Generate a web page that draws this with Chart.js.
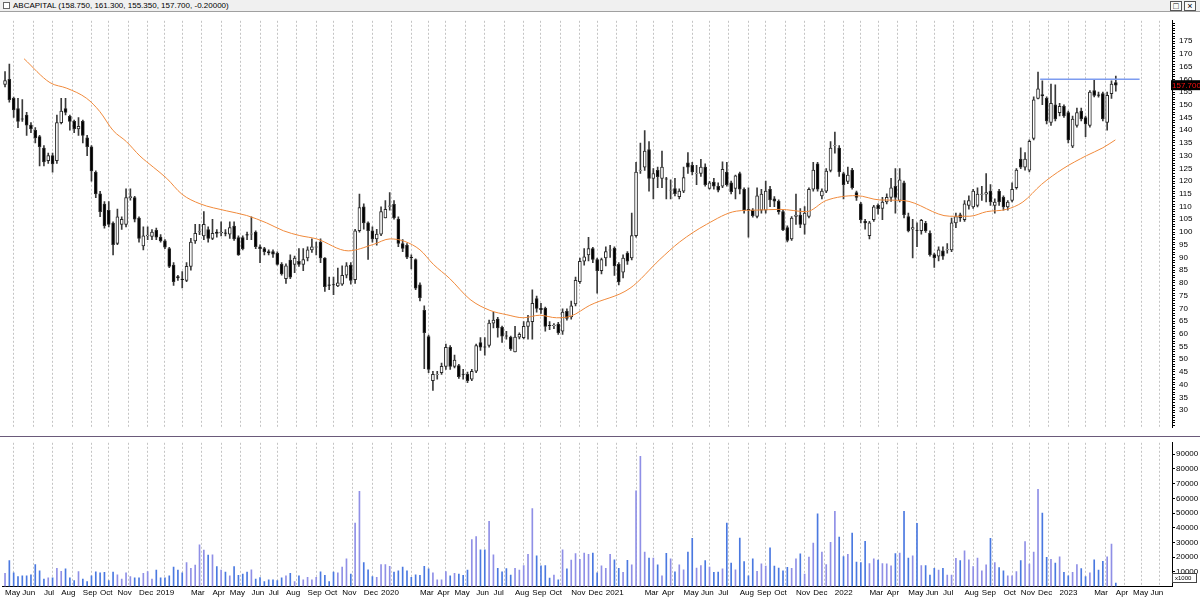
<!DOCTYPE html>
<html>
<head>
<meta charset="utf-8">
<script src="https://cdn.jsdelivr.net/npm/chart.js@4.4.1/dist/chart.umd.min.js"></script>
<style>
  body { margin: 0; background: #fff; font-family: "Liberation Sans", Arial, sans-serif; }
  #wrap { position: relative; width: 1200px; height: 597px; overflow: hidden; }
  #head { position: absolute; left: 0; top: 0; width: 1200px; height: 12px; background: #f0f0f0; border-bottom: 1px solid #a0a0a0; box-sizing: border-box; font-size: 8px; line-height: 11px; color: #000; }
  #head .ic { position: absolute; left: 3px; top: 2px; width: 7px; height: 7px; border: 1px solid #666; background: #fff; box-sizing: border-box; }
  #head .tt { position: absolute; left: 13px; top: 0; }
  #head .bt { position: absolute; top: 1px; width: 12px; height: 10px; border: 1px solid #555; box-sizing: border-box; font-size: 9px; line-height: 8px; text-align: center; background: #fafafa; }
  #price { position: absolute; left: 0; top: 12px; }
  #sep { position: absolute; left: 0; top: 436px; width: 1200px; height: 1px; background: #6a5a7a; }
  #vol { position: absolute; left: 0; top: 437px; }
</style>
</head>
<body>
<div id="wrap">
  <div id="head"><div class="ic"></div><div class="tt">ABCAPITAL (158.750, 161.300, 155.350, 157.700, -0.20000)</div>
    <div class="bt" style="left:1170px">□</div><div class="bt" style="left:1184px">×</div></div>
  <canvas id="price" width="1200" height="424"></canvas>
  <div id="sep"></div>
  <canvas id="vol" width="1200" height="160"></canvas>
</div>
<script>
// weekly candles, first week = week of 2018-05-04
const startDate = new Date(2018, 4, 4)

const opens = [158,160,152.5,148.5,144.5,146,142,140,137.5,133,128,130,128,143,148.5,145.5,143.5,140.5,143.5,137,
133.5,123.5,115,111,108.5,103.5,95.5,103,103,113.5,113.5,105.5,94.5,98.5,98.3,100.7,98,96.5,93.5,87,
82.5,81.5,81,86.5,96.5,100,98.5,101,97.5,100,99.6,99.7,99.2,102.3,97.8,97.8,99,99.2,100,94.2,
93.5,92.3,92.3,91.6,87.3,81.7,89,87.3,88.5,87.3,89.8,93,94,96,89.8,79.2,79.3,78.8,79.5,83,
87,81.3,100.5,109.9,103.6,100.5,97.3,99.2,105.5,110.1,110.9,105.1,95.5,94.8,90.1,89.2,79.2,69.2,58.9,41.6,
44,44.7,47.2,54.7,47.2,47.5,44.2,44.1,42.2,45.3,56.6,54.9,55.4,64.2,65.8,62.5,59.2,58.7,52.9,58.7,
58.5,62.9,64.8,73.8,70,70,63.3,63.2,63.8,61,68.8,66.6,71.7,80.5,88.5,91,93.5,89.2,84.8,89.8,
92.9,93.6,87.3,84.2,91.7,89.8,98.6,124.2,125.5,132.4,121.1,124.2,121.1,120.9,116.4,117.1,113.9,116.1,127.2,126.2,
123,123,125.5,117.1,119.6,118,118,123.6,119.3,117.1,123,116.8,108.9,108.6,106.1,108.6,108.6,116.8,113,112.1,
108,101.7,97.3,106.1,106.7,103,106.1,116.8,126.8,114.2,116.1,124.2,133.9,133,123,119.9,124.3,115.5,111.1,104.2,
98.6,104.9,110.5,109.3,111.8,113.6,118,112.4,119.3,106.1,101.1,100.6,100.5,103.4,99.5,91.1,90.5,92.6,93,93,
103.6,106.8,104.9,110.5,109.9,110.5,114.8,114.9,116.1,110.5,116.1,113.6,109.9,112.4,117.4,128.7,125.5,124.3,136.8,152.5,
154,152.5,143.1,150,146.9,149.4,146.9,133.7,141.9,147.5,145,141.9,155.6,153.9,154.4,143.1,154.4,158.75]

const highs = [163,166,153,152.5,152,147,143,141,138,134,131,131,146,152.5,152.5,146,144,145,144,138,
134,124,116,112,112,104,109,106,117,117,114,106,102,102,101,101.5,99,97,94,88,
83,84.5,88,97.5,103,103,108,102,105,101,104,101,104,104,98.5,98.5,100,106,100.5,95,
94,93,93,92.2,88,87.5,91,90.5,93.5,93.5,94.2,97.3,96,97.3,90,82.3,82.3,85.8,86.7,88,
88,101.1,114.9,111.1,104,102,101.1,109.9,112.4,115.5,112.4,106,97,95.5,91,89.5,80,71,59.5,45.3,
45.3,48.5,56,55.4,51.6,48,46,45,46,56,58.5,58.5,65.4,68.5,66.5,63,61,59.1,62.9,60.4,
64.8,67.3,77.3,74.8,72,70.5,64.8,64,64.5,69.8,69.8,72.9,82.3,89.8,93.5,97.9,94,89.8,89.8,94.2,
94.8,94.2,88,91,92.3,107.4,127.4,134.9,139.9,135.5,124.9,125.5,131.8,121.5,120.5,121.1,117,125.5,131.2,127.4,
126.2,128.6,126.8,119.9,121.1,119.3,127.6,127.4,120,122.4,123.6,117.4,117.4,109.2,117.4,116.8,120,118,113.9,112.6,
108.6,102.4,106.1,114.9,109.2,110,117.4,127.4,127.4,117,124.9,135.5,139.3,134,123.6,125.5,125,116.1,111.7,105,
104.2,110.5,111.1,113.6,115,121.1,124.9,124.9,120,107.4,105,103.6,105,104.2,100.5,91.7,94.2,94.2,95.5,105.5,
107.4,107.4,112.4,114.2,116.8,117.4,118,123,118.6,113,116.8,114.2,112.4,119.3,124.9,133.1,131.2,136.2,153.1,162.8,
159.4,153.1,158.1,157.8,150.6,150,147.5,145.6,148.7,148.7,145.6,155.6,159.8,155,155,155,159.4,161.3]

const lows = [157,151,145,141,143.5,138,139,135,126,126,127,123.5,127,142.5,146,140,139,138,135,130,
120,113.5,106,101.5,102,91,95,101,102,112.5,104,96,93,97,97,97,96,93.5,86,79,
81,78,80.5,85,95.5,99,97,96,97,98,98.5,98.5,97.5,96.7,90.8,93,97,97,93.5,88,
91,91,90,87,83,79.8,81.7,84,86.5,84.8,88.6,92,91,88,76.7,77.3,75.4,78.5,79,82,
79.5,79.8,99.9,101.1,89.2,96,94.8,98.6,105.5,108.6,105,94.2,92.3,89.5,85.5,77.3,72.9,46.3,44.7,37.8,
42.2,44,46,46,46.6,42.5,42.2,40.8,41.6,44.7,53.5,51.6,54.7,62.3,58.7,56.6,57.9,53.5,52.9,58,
58,57.9,57.9,68.5,68,61,61.6,62,59.8,59.8,65.4,65.8,71,79.8,87,88.6,88,76,83.5,86.7,
90,82.9,79.2,82,87.3,89,98,123,124.2,116.1,113,117.4,117.4,113,113,114.2,113,115.5,123,122.4,
118.6,121.8,118,116.8,116.8,115.8,117.4,118,115,113,115,107.4,98,105.8,105.5,107.4,107.4,110,110,107,
100.5,96.1,96.7,103,101.7,99.2,105.5,116.1,116.1,113,115.5,123.6,131,121.8,113,119,116.8,112.4,103.6,101.1,
97.3,104.2,107,104.9,111,112,107.4,111.8,105.5,100,89.8,94.2,99.2,99.8,90.5,86.1,88.6,89.2,91.7,92.3,
101.7,104.2,104.2,109,109.3,109.9,112.4,111.8,110.5,107.4,110.5,108.6,108.6,111.8,116.8,124.9,124.3,123.6,136.2,152.3,
150,142.5,141.9,143.7,145.6,145,135,133.1,141.2,143.7,137.5,141.2,153.1,153,143.7,140,152.5,155.35]

const closes = [159.5,152,148,143.5,144.3,142,140.5,137,133.5,127.5,130,126.8,143,147.5,147,143.5,140.5,141.5,138,133.5,
124,115,108,102.5,103,95,106,105,113.5,113.9,105,97.5,98.5,98.8,100,98,96.5,94,86.5,80.5,
82,81.3,86.5,96,99.5,100.2,103,97.5,99.5,99.4,100,99.4,101.7,97.3,91,93.5,98.8,99.3,94.2,93.5,
92.3,91.8,91.3,87.3,83.5,86.7,82.3,89.8,87.3,89.2,93,94.2,94.2,89.8,78.5,79,79.2,80,83,86.7,
81,100.5,109.6,103.6,100.5,97.3,99.2,108,108.9,110.3,105.5,95.5,93.6,90.1,89.9,77.9,74.2,60.4,46,44.1,
44.1,47.2,54.7,47.2,49.7,43.2,44,41.6,45.3,55.4,54.7,54.7,64.2,65.4,62.3,59.1,59.1,54.1,58.7,59.8,
62.9,64.8,72,70,69.5,62.9,63.2,63.4,60.4,68.5,66,71,81,88.5,90.2,93.5,89.2,84.8,89.2,92.3,
93,86.7,80.4,89.8,88.5,98.6,123.6,124.3,131.8,121.1,123,121.7,125.5,120.8,116.5,115.1,116.1,121.4,125.5,123.6,
123.1,125.5,118.6,119.3,118,116.4,124.6,118.6,115.9,122.1,116.8,108.6,108.6,106.4,114.2,114.9,116.1,112.6,112.1,108,
100.8,96.7,105.5,106.7,103,107.4,116.8,124.3,116.8,116.1,123.9,133,134,123.6,118.6,122.4,117.4,113.6,104.9,103.6,
103.6,109.9,109.2,111.8,113.6,117.4,113.6,120.5,106.8,100.5,101.7,100.5,104.6,100.5,91.1,89.8,93,90.5,93.1,103.6,
106.1,105.5,111.1,112.4,116.1,114.9,114.9,115.5,111.8,111.8,111.8,109.9,111.8,116.8,124.3,125.5,128.7,135.6,151.9,156.3,
153.5,143.7,150.6,144.4,149.4,145.6,136.2,144.4,146.9,144.4,142.5,155,153.7,153.7,144.4,153.7,158.1,157.7]

// weekly volume, thousands
const volumes = [8.9,17.6,9.3,6.7,7.2,7.2,8.0,15.0,10.7,5.0,5.9,5.9,12.4,10.4,12.0,5.9,4.1,10.2,5.0,3.3,
7.2,10,9.3,9.6,4.1,9.8,8.0,5.0,9.3,6.7,5.9,5.9,8.9,10.2,5.0,11.1,5.9,5.9,7.2,13.3,
11.1,9.3,16.3,12.4,14.6,28.4,24.8,21.3,21.5,13.5,11.1,9.8,7.2,13.5,7.6,8.5,9.8,11.3,5.0,6.1,
3.3,4.6,4.6,4.1,5.9,7.2,8.9,3.3,7.2,4.6,6.3,4.6,6.3,10,7.6,3.3,9.8,9.3,13.3,18.9,
8.5,43.2,64.7,16.3,11.3,6.7,6.3,15.0,15.0,13.7,9.8,10.7,13.3,10.7,6.3,8.0,7.6,13.7,12.0,9.3,
4.6,4.6,10.2,7.2,8.9,8.5,7.6,11.1,31.9,33.9,25.0,25.0,44.3,21.5,12.4,10,12.2,7.8,12.4,11.1,
14.3,21.9,53.0,20.9,14.1,14.3,5.7,7.8,4.6,25.0,12.0,18.0,22.4,18.5,22.8,21.9,22.8,9.3,14.1,
12.4,21.9,18.2,12.4,9.6,17.8,14.8,65.1,88.6,23.5,19.3,19.3,14.8,7.2,22.6,18.9,10,14.8,11.3,23.5,
32.8,12.6,14.3,17.6,13.3,9.6,9.8,12.0,43.2,15.9,11.3,33.0,16.9,7.2,18.9,10.4,15.4,13.9,26.3,13.9,
12.6,10.7,13.0,12.4,18.9,22.2,8.5,20.0,29.5,49.5,23.5,15.0,30.0,51.2,33.7,20.4,21.9,36.3,16.7,16.3,
30.8,15.6,18.9,18.0,15.6,15.4,14.1,22.4,22.8,51.2,19.3,20.9,43.0,14.3,14.3,7.8,12.4,11.1,12.4,7.8,
7.8,19.1,17.6,24.3,18.2,13.5,19.3,10.7,14.8,32.8,16.3,12.8,10.7,7.2,7.2,10.2,17.6,30.6,15.2,23.5,
66.2,49.9,19.8,18.5,15.9,20.2,9.6,7.2,9.6,15.0,12.2,6.7,9.3,18.2,11.1,17.2,20.2,28.9,2.4]

// orange average line, read at [week index, price]
const avgIdx = [4.4,10.4,14.3,18.9,21.9,25,28.1,31.2,34.3,37.4,40.9,45.1,51.3,55.9,60.5,64.4,68.2,72.1,79.4,85.2,
89.1,92.5,96,99.1,102.9,107.6,112.2,116.1,119.9,123.7,127.6,131,135.3,144.6,151.5,156.1,162.3,169.2,173.8,179.3,
185.4,190,197,202.4,207.8,218.6,223.2,227.1,231.7,235.5,239.8,244.8,250.2,254,256.9]
const avgVal = [168.1,158.7,156.5,152.5,147.4,139.9,135.5,129.9,125.5,121.1,114.9,111.1,108.3,106.5,103.6,100.5,98.6,97.3,92.6,95.1,
97.3,96.3,93,87.3,81.7,73.5,69.2,67.5,66.3,67.3,66.3,67,71.2,77.9,89.2,96.1,103,108.2,108.6,108.9,
108,112.4,114.3,112.6,112.4,106.2,106.2,108,108.9,111.8,118.7,124.9,130,133.1,136.2]

// blue horizontal line
const levelIdx = [239.5, 262.5]
const levelVal = [160, 160]

const monthNames = ['Jan','Feb','Mar','Apr','May','Jun','Jul','Aug','Sep','Oct','Nov','Dec']
const lastSlot = 268

const monthTicks = (function() {
    const out = []
    let prev = -1
    for (let i = 0; i <= lastSlot; i++) {
        const d = new Date(startDate.getTime() + i * 7 * 86400000)
        const m = d.getMonth()
        if (m !== prev) {
            let label = monthNames[m]
            if (m === 0) label = String(d.getFullYear())
            if (m === 1) label = ''
            out.push({ value: i, label: label })
        }
        prev = m
    }
    return out
})()

const tickLabel = {}
monthTicks.forEach(t => tickLabel[t.value] = t.label)

const X_MIN = -0.7, X_MAX = 270
const AXIS_W = 28
const gridX = {
    color: '#c4c4c4', lineWidth: 1, drawTicks: false
}

const wickData = closes.map((c, i) => ({ x: i, y: [lows[i], highs[i]] }))
const bodyData = closes.map((c, i) => ({ x: i, y: [opens[i], c] }))
const upColor = closes.map((c, i) => c >= opens[i] ? '#ffffff' : '#000000')

const priceTag = {
    id: 'priceTag',
    afterDraw(chart) {
        const y = chart.scales.y.getPixelForValue(closes[closes.length - 1])
        const ctx = chart.ctx
        ctx.save()
        ctx.fillStyle = '#000'
        ctx.fillRect(1171, y - 5, 29, 10)
        ctx.fillStyle = '#ff1010'
        ctx.font = '8px "Liberation Sans", Arial'
        ctx.textBaseline = 'middle'
        ctx.fillText('157.700', 1172, y + 0.5)
        ctx.restore()
    }
}

const volNote = {
    id: 'volNote',
    afterDraw(chart) {
        const ctx = chart.ctx
        ctx.save()
        ctx.strokeStyle = '#444'
        ctx.fillStyle = '#fff'
        ctx.fillRect(1172.5, 136.5, 24, 9)
        ctx.strokeRect(1172.5, 136.5, 24, 9)
        ctx.fillStyle = '#000'
        ctx.font = '6px "Liberation Sans", Arial'
        ctx.textBaseline = 'middle'
        ctx.fillText('x1000', 1175, 141.5)
        ctx.restore()
    }
}

new Chart(document.getElementById('price'), {
    data: {
        datasets: [
            { type: 'bar', data: wickData, backgroundColor: '#3a3a3a', barThickness: 1, grouped: false, order: 3 },
            { type: 'bar', data: bodyData, backgroundColor: upColor, borderColor: '#2a2a2a', borderWidth: 1,
              borderSkipped: false, barThickness: 3, grouped: false, order: 2 },
            { type: 'line', data: avgIdx.map((x, i) => ({ x: x, y: avgVal[i] })), borderColor: '#f08a3c',
              borderWidth: 1, pointRadius: 0, cubicInterpolationMode: 'monotone', order: 1 },
            { type: 'line', data: levelIdx.map((x, i) => ({ x: x, y: levelVal[i] })), borderColor: '#7d9cf0',
              borderWidth: 1.5, pointRadius: 0, order: 0 }
        ]
    },
    options: {
        responsive: false, animation: false,
        layout: { padding: { left: 2, right: 0, top: 0, bottom: 0 } },
        plugins: { legend: { display: false }, tooltip: { enabled: false } },
        scales: {
            x: {
                type: 'linear', min: X_MIN, max: X_MAX, offset: false,
                afterBuildTicks: s => { s.ticks = monthTicks.map(t => ({ value: t.value })) },
                afterFit: s => { s.height = 0 },
                ticks: { display: false },
                grid: gridX,
                border: { display: false, dash: [2, 2] }
            },
            y: {
                position: 'right', min: 23.3, max: 183,
                afterBuildTicks: s => {
                    const t = []
                    for (let v = 24; v <= 182; v++) t.push({ value: v })
                    s.ticks = t
                },
                afterFit: s => { s.width = AXIS_W },
                ticks: {
                    autoSkip: false, padding: 4, color: '#000',
                    font: { size: 8, family: '"Liberation Sans", Arial' },
                    callback: v => (v % 5 === 0 && v >= 30 && v <= 175) ? v : ''
                },
                grid: { drawOnChartArea: false, drawTicks: true, tickLength: 3, color: '#000' },
                border: { color: '#000' }
            }
        }
    },
    plugins: [priceTag]
})

new Chart(document.getElementById('vol'), {
    data: {
        datasets: [
            { type: 'bar', data: volumes.map((v, i) => ({ x: i, y: v })),
              backgroundColor: closes.map((c, i) => c >= opens[i] ? '#8f8fe6' : '#4a78e0'),
              barThickness: 1, grouped: false }
        ]
    },
    options: {
        responsive: false, animation: false,
        layout: { padding: { left: 2, right: 0, top: 0, bottom: 0 } },
        plugins: { legend: { display: false }, tooltip: { enabled: false } },
        scales: {
            x: {
                type: 'linear', min: X_MIN, max: X_MAX, offset: false,
                afterBuildTicks: s => { s.ticks = monthTicks.map(t => ({ value: t.value })) },
                afterFit: s => { s.height = 10.5 },
                ticks: {
                    autoSkip: false, maxRotation: 0, align: 'start', padding: 1, color: '#000',
                    font: { size: 8, family: '"Liberation Sans", Arial' },
                    callback: v => tickLabel[v] !== undefined ? tickLabel[v] : ''
                },
                grid: gridX,
                border: { color: '#000', dash: [2, 2] }
            },
            y: {
                position: 'right', min: 0, max: 97.8,
                afterBuildTicks: s => {
                    const t = []
                    for (let v = 10; v <= 90; v += 10) t.push({ value: v })
                    s.ticks = t
                },
                afterFit: s => { s.width = AXIS_W },
                ticks: {
                    autoSkip: false, padding: 1, color: '#000',
                    font: { size: 8, family: '"Liberation Sans", Arial' },
                    callback: v => v * 1000
                },
                grid: { drawOnChartArea: false, drawTicks: true, tickLength: 3, color: '#000' },
                border: { color: '#000' }
            }
        }
    },
    plugins: [volNote]
})
</script>
</body>
</html>
